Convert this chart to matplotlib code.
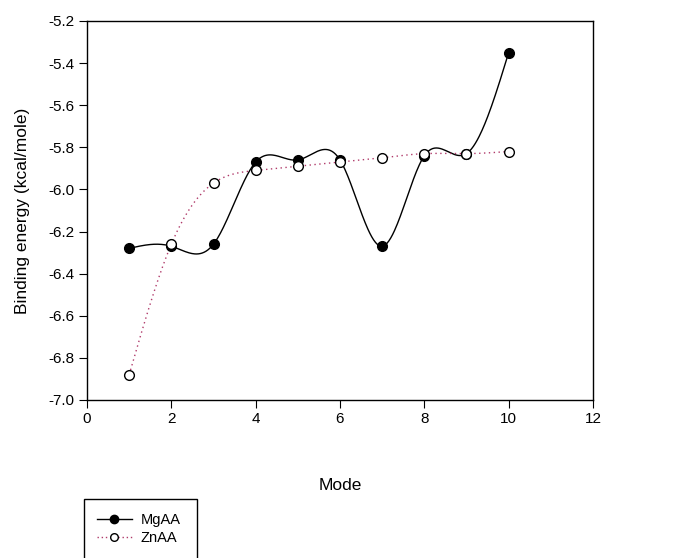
import numpy as np
import matplotlib.pyplot as plt
from matplotlib.patches import Rectangle

plt.rcParams['font.family'] = ['Liberation Sans', 'DejaVu Sans']

mode = [1, 2, 3, 4, 5, 6, 7, 8, 9, 10]
mgaa = [-6.28, -6.27, -6.26, -5.87, -5.86, -5.86, -6.27, -5.84, -5.83, -5.35]
znaa = [-6.88, -6.26, -5.97, -5.91, -5.89, -5.87, -5.85, -5.83, -5.83, -5.82]


def natural_spline(x, y, n=400):
    # natural cubic spline through the points, for the smooth connecting line
    x = np.asarray(x, float)
    y = np.asarray(y, float)
    k = len(x)
    h = np.diff(x)
    A = np.zeros((k, k))
    b = np.zeros(k)
    A[0, 0] = A[-1, -1] = 1
    for i in range(1, k - 1):
        A[i, i - 1] = h[i - 1]
        A[i, i] = 2 * (h[i - 1] + h[i])
        A[i, i + 1] = h[i]
        b[i] = 6 * ((y[i + 1] - y[i]) / h[i] - (y[i] - y[i - 1]) / h[i - 1])
    m = np.linalg.solve(A, b)
    xs = np.linspace(x[0], x[-1], n)
    idx = np.clip(np.searchsorted(x, xs) - 1, 0, k - 2)
    t0 = xs - x[idx]
    t1 = x[idx + 1] - xs
    hh = h[idx]
    ys = (m[idx] * t1 ** 3 + m[idx + 1] * t0 ** 3) / (6 * hh) \
        + (y[idx] / hh - m[idx] * hh / 6) * t1 \
        + (y[idx + 1] / hh - m[idx + 1] * hh / 6) * t0
    return xs, ys


fig = plt.figure(figsize=(6.75, 5.58), dpi=100)
ax = fig.add_axes([0.1289, 0.2832, 0.7496, 0.6792])

zn_color = '#b03a6a'

xs, ys = natural_spline(mode, mgaa)
ax.plot(xs, ys, color='black', lw=1.0)
xs, ys = natural_spline(mode, znaa)
ax.plot(xs, ys, color=zn_color, lw=1.0, ls=(0, (1, 2.5)))

ax.plot(mode, mgaa, ls='none', marker='o', ms=7, mfc='black', mec='black')
ax.plot(mode, znaa, ls='none', marker='o', ms=7, mfc='white', mec='black', mew=1.0)

ax.set_xlim(0, 12)
ax.set_ylim(-7.0, -5.2)
ax.set_xticks(range(0, 13, 2))
ax.set_yticks(np.arange(-7.0, -5.19, 0.2))
ax.yaxis.set_major_formatter(plt.FormatStrFormatter('%.1f'))
ax.tick_params(direction='out', length=5.5, labelsize=11, top=False, right=False)
ax.set_xlabel('Mode', fontsize=12.5, labelpad=37)
ax.set_ylabel('Binding energy (kcal/mole)', fontsize=12.5, labelpad=13)
for s in ax.spines.values():
    s.set_linewidth(1.0)

# legend box below the plot
h1, = ax.plot([], [], color='black', lw=1.0, marker='o', ms=6, mfc='black', mec='black')
h2, = ax.plot([], [], color=zn_color, lw=1.0, ls=(0, (1, 2)), marker='o', ms=5.5,
              mfc='white', mec='black')
fig.legend([h1, h2], ['MgAA', 'ZnAA'], loc='upper left',
           bbox_to_anchor=(0.143, 1 - 513 / 558),
           bbox_transform=fig.transFigure, frameon=False, fontsize=10.5,
           handlelength=2.4, labelspacing=0.25, handletextpad=0.6,
           borderaxespad=0, borderpad=0)
fig.patches.append(Rectangle((84 / 675, -0.01), 113 / 675, 0.01 + 59 / 558,
                             transform=fig.transFigure, fill=False,
                             edgecolor='black', lw=1.0))

fig.savefig('out.png', dpi=100)
